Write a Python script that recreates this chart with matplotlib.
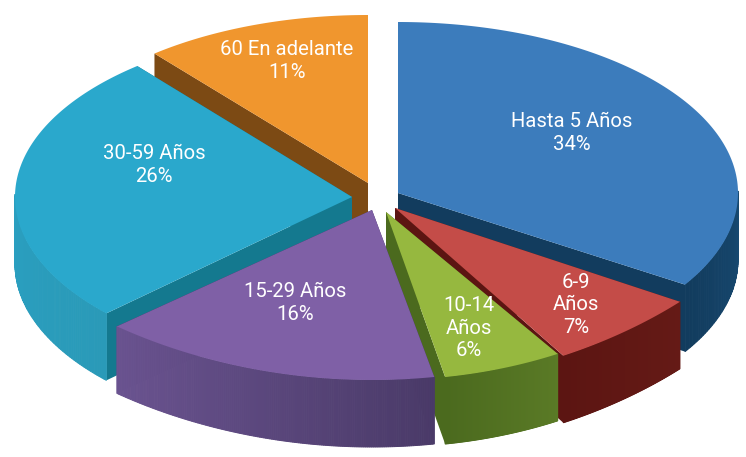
import numpy as np
import matplotlib
matplotlib.use("Agg")
import matplotlib.pyplot as plt
from matplotlib.colors import to_rgb
from matplotlib.patches import Polygon

labels = ["Hasta 5 Años", "6-9\nAños", "10-14\nAños", "15-29 Años", "30-59 Años", "60 En adelante"]
values = [34, 7, 6, 16, 26, 11]
top_colors = ["#3c7cbc", "#c44c48", "#96b83f", "#7f60a6", "#2aa8cc", "#f0962e"]
side_light = ["#174a72", "#651a16", "#5a7a26", "#6a5390", "#2a9fc0", "#b86f1c"]
side_dark = ["#123c5e", "#5c1512", "#4b6a1e", "#4a3a68", "#2a9ab8", "#7e4a10"]
cut_colors = ["#123c5e", "#5c1512", "#4b6a1e", "#3f3160", "#14798f", "#7c4a14"]

# display layout (pixel canvas)
centres = [(398, 193), (395, 208), (386, 212), (372, 210), (352, 197), (368, 183)]
radii_x = [340, 378, 350, 390, 337, 335]
radii_y = [171, 175, 168, 170, 170, 168]
squeeze = [0, 0.2, 0.1, 0.15, 0, 0]
label_pos = [(572, 133), (576, 305), (469, 328), (295, 303), (154, 165), (287, 61)]
DEPTH = 67
order = [5, 4, 0, 1, 2, 3]


def proj(i, t, r=1.0, z=0.0):
    cx, cy = centres[i]
    x, y = r * np.sin(t), r * np.cos(t)
    s = 1.0 + squeeze[i] * np.minimum(y, 0)
    return cx + radii_x[i] * x * s, cy - radii_y[i] * y + z


fig = plt.figure(figsize=(7.46, 4.57), dpi=100)
ax = fig.add_axes([0, 0, 1, 1])
ax.set_xlim(0, 746)
ax.set_ylim(457, 0)
ax.axis("off")

edges = np.concatenate([[0], np.cumsum(values)]) / sum(values) * 2 * np.pi
for rank, i in enumerate(order):
    cx, cy = centres[i]
    a0, a1 = edges[i], edges[i + 1]
    ts = np.linspace(a0, a1, 160)
    for t in (a0, a1):
        x0, y0 = proj(i, t)
        x1, y1 = proj(i, t, z=DEPTH)
        ax.add_patch(Polygon([(cx, cy), (x0, y0), (x1, y1), (cx, cy + DEPTH)],
                             fc=cut_colors[i], ec="none", zorder=1 + rank * 3))
    c0 = np.array(to_rgb(side_light[i]))
    c1 = np.array(to_rgb(side_dark[i]))
    vis = ts[np.cos(ts) < 0.02]
    for k in range(len(vis) - 1):
        f = k / max(len(vis) - 2, 1)
        p = [proj(i, vis[k]), proj(i, vis[k + 1]), proj(i, vis[k + 1], z=DEPTH), proj(i, vis[k], z=DEPTH)]
        # purple and cyan walls lighten towards the left end
        col = c1 + (c0 - c1) * f if i in (3, 4) else c0 + (c1 - c0) * f
        ax.add_patch(Polygon(p, fc=col, ec=col, lw=0.7, zorder=2 + rank * 3))
    xs, ys = proj(i, ts)
    ax.add_patch(Polygon(np.column_stack([np.r_[cx, xs], np.r_[cy, ys]]),
                         fc=top_colors[i], ec="none", zorder=3 + rank * 3))

for i, (lab, v) in enumerate(zip(labels, values)):
    ax.text(*label_pos[i], f"{lab}\n{v}%", color="white", ha="center", va="center",
            fontsize=14.6, family="Roboto", linespacing=1.22, zorder=100)

fig.savefig("out.png", dpi=100)
